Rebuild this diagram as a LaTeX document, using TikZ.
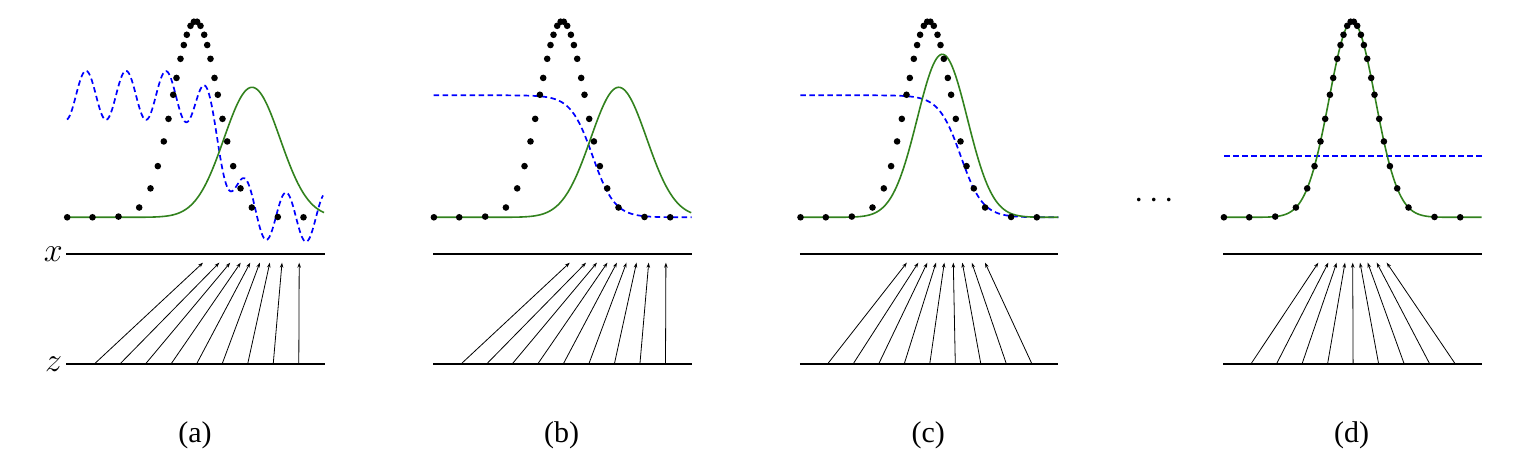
\RequirePackage{fix-cm}
\documentclass[tikz,border=0pt]{standalone}
\usepackage{fontspec}
\setmainfont{Liberation Serif}
\usetikzlibrary{arrows.meta}
\definecolor{pgreen}{RGB}{50,130,30}

% samples of the data distribution (offsets from its mean)
\newcommand{\datadots}{%
  \foreach \d in {-128.3,-103,-77,-56.3,-45,-37.7,-31.7,-27,-22.3,-19,-15,-11.7,-8.7,-5,-1.6,
                  1.6,5,8.7,11.7,15,19,22.3,27,31.7,37.7,45,56.3,82.3,108}
    \fill ({129.5+\d},{pdata(129.5+\d)}) circle (3.3);}

% x and z lines with the mapping x = G(z)
\newcommand{\mapping}[1]{%
  \draw[axisline] (0.5,-36.7) -- (259,-36.7);
  \draw[axisline] (0.5,-147) -- (259,-147);
  \foreach \t [count=\k from 0] in {#1}
    \draw[mapsto] ({28+25.6*\k},-147) -- (\t,-45.4);}

\begin{document}
\begin{tikzpicture}[x=1pt,y=1pt,
    axisline/.style={line width=1.8pt},
    mapsto/.style={line width=0.8pt,-{Stealth[length=5pt,width=3.5pt]}},
    pg/.style={pgreen,line width=1.6pt},
    disc/.style={blue,line width=1.7pt,dash pattern=on 5.5pt off 3.5pt},
    caption/.style={font=\fontsize{30}{36}\selectfont},
    axlabel/.style={font=\fontsize{34}{40}\selectfont},
    declare function={
      pdata(\x)=196*exp(-((\x-129.5)/32.53)^2);
      pgen(\x,\m,\h,\s)=\h*exp(-((\x-\m)/\s)^2);
      dstep(\x,\c,\w)=122/(1+exp(max(-9,min(9,(\x-\c)/\w))));
    }]

  \useasboundingbox (-66,-252.7) rectangle (1456,217.3);

  % (a)
  \begin{scope}
    \mapping{137,153.3,164.2,174.7,184.2,193.8,203.8,216,233.2}
    \draw[disc] plot[domain=1:257,samples=257] (\x,{dstep(\x,159,10)+24.5*cos(9*(\x-20))});
    \draw[pg] plot[domain=0:258,samples=150] (\x,{pgen(\x,186,130,39.6)});
    \datadots
    \node[axlabel] (xlab) at (-12.7,-36.7) {$x$};
    \node[axlabel] (zlab) at (-12.3,-147) {$z$};
    \node[caption] (capa) at (129,-218) {(a)};
  \end{scope}

  % (b)
  \begin{scope}[xshift=366.7pt]
    \mapping{137,153.3,164.2,174.7,184.2,193.8,203.8,216,233.2}
    \draw[disc] plot[domain=1:259,samples=150] (\x,{dstep(\x,160,11)});
    \draw[pg] plot[domain=0:258.5,samples=150] (\x,{pgen(\x,186,130,39.6)});
    \datadots
    \node[caption] (capb) at (129,-218) {(b)};
  \end{scope}

  % (c)
  \begin{scope}[xshift=733.3pt]
    \mapping{107.5,119,128,136.7,145,154,163,172.5,185.7}
    \draw[disc] plot[domain=1:259,samples=150] (\x,{dstep(\x,161.5,11)});
    \draw[pg] plot[domain=0:259,samples=150] (\x,{pgen(\x,143,163,35.4)});
    \datadots
    \node[caption] (capc) at (129,-218) {(c)};
  \end{scope}

  \node[axlabel,anchor=base] (more) at (1088.3,9) {$\cdots$};

  % (d)
  \begin{scope}[xshift=1156.7pt]
    \mapping{95.6,105.6,114,122.3,130,137.3,145,154,164}
    \draw[disc] (1.3,61) -- (259.3,61);
    \draw[pg] plot[domain=0:259,samples=150] (\x,{pdata(\x)});
    \datadots
    \node[caption] (capd) at (129,-218) {(d)};
  \end{scope}

\end{tikzpicture}
\end{document}
